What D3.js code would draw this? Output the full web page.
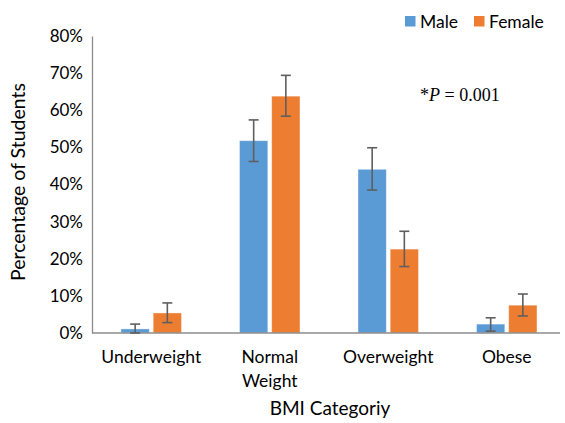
<!DOCTYPE html>
<html><head><meta charset="utf-8">
<script src="https://cdn.jsdelivr.net/npm/d3@7"></script>
<style>body{margin:0;background:#fff;}svg{display:block;}</style>
</head><body>
<svg id="chart" width="565" height="423"></svg>
<script>
const categories = ["Underweight", "Normal Weight", "Overweight", "Obese"];
const categoryLines = [["Underweight"], ["Normal", "Weight"], ["Overweight"], ["Obese"]];
const seriesNames = ["Male", "Female"];
const maleValues = [1.1, 51.8, 44.1, 2.4];
const maleLow = [0.0, 46.2, 38.5, 0.5];
const maleHigh = [2.4, 57.4, 49.9, 4.1];
const femaleValues = [5.4, 63.8, 22.6, 7.5];
const femaleLow = [2.8, 58.4, 17.9, 4.6];
const femaleHigh = [8.1, 69.4, 27.4, 10.5];
const yTicks = [0, 10, 20, 30, 40, 50, 60, 70, 80];
const colors = ["#5B9BD5", "#ED7D31"];

(function () {
const svg = d3.select("#chart");
const font = "Lato, 'Open Sans', sans-serif";
const mLeft = 92, mRight = 566, mTop = 36, mBottom = 333;

const x0 = d3.scaleBand().domain(categories).range([mLeft, mRight]).paddingInner(0).paddingOuter(0);
const x1 = d3.scaleBand().domain(seriesNames).range([29, 29 + 60.5]).paddingInner(0.12);
const y = d3.scaleLinear().domain([0, 80]).range([mBottom, mTop]);

const yAxis = d3.axisLeft(y).tickValues(yTicks).tickFormat(d => d + "%").tickSize(0).tickPadding(9);
const gy = svg.append("g").attr("transform", `translate(${mLeft},0)`).call(yAxis);
gy.select(".domain").attr("stroke", "#8c8c8c").attr("stroke-width", 1.3);
gy.selectAll("text").attr("font-family", font).attr("font-size", 17).attr("fill", "#000");

const series = [
  {name: "Male", values: maleValues, low: maleLow, high: maleHigh},
  {name: "Female", values: femaleValues, low: femaleLow, high: femaleHigh}
];

series.forEach((s, si) => {
  const g = svg.append("g");
  g.selectAll("rect").data(categories).join("rect")
    .attr("x", c => x0(c) + x1(s.name))
    .attr("width", x1.bandwidth())
    .attr("y", (c, i) => y(s.values[i]))
    .attr("height", (c, i) => y(0) - y(s.values[i]))
    .attr("fill", colors[si])
    .attr("stroke", "#fff").attr("stroke-opacity", 0.5).attr("stroke-width", 0.8);
});

svg.append("line").attr("x1", mLeft).attr("x2", 560).attr("y1", y(0)).attr("y2", y(0))
  .attr("stroke", "#8c8c8c").attr("stroke-width", 1.3);

series.forEach((s, si) => {
  const g = svg.append("g").attr("stroke", "#5f5f5f").attr("stroke-width", 1.6);
  categories.forEach((c, i) => {
    const cx = x0(c) + x1(s.name) + x1.bandwidth() / 2;
    g.append("line").attr("x1", cx).attr("x2", cx).attr("y1", y(s.low[i])).attr("y2", y(s.high[i]));
    [s.low[i], s.high[i]].forEach(v => {
      g.append("line").attr("x1", cx - 5).attr("x2", cx + 5).attr("y1", y(v)).attr("y2", y(v));
    });
  });
});

categories.forEach((c, i) => {
  const cxl = x0(c) + x0.bandwidth() / 2;
  const t = svg.append("text").attr("x", cxl).attr("y", 363)
    .attr("text-anchor", "middle").attr("font-family", font).attr("font-size", 17.5).attr("fill", "#000");
  categoryLines[i].forEach((ln, j) => {
    t.append("tspan").attr("x", cxl).attr("dy", j === 0 ? 0 : 24).text(ln);
  });
});

svg.append("text").attr("x", 330).attr("y", 415).attr("text-anchor", "middle")
  .attr("font-family", font).attr("font-size", 19).attr("fill", "#000").text("BMI Categoriy");
svg.append("text").attr("transform", "translate(25,182) rotate(-90)").attr("text-anchor", "middle")
  .attr("font-family", font).attr("font-size", 19.5).attr("fill", "#000").text("Percentage of Students");

const legendX = [405, 474];
seriesNames.forEach((n, i) => {
  svg.append("rect").attr("x", legendX[i]).attr("y", 16).attr("width", 10.5).attr("height", 10.5).attr("fill", colors[i]);
  svg.append("text").attr("x", legendX[i] + 15).attr("y", 27.5).attr("font-family", font)
    .attr("font-size", 17.5).attr("fill", "#000").text(n);
});

const p = svg.append("text").attr("x", 420).attr("y", 101).attr("font-family", "'Liberation Serif', 'DejaVu Serif', serif")
  .attr("font-size", 18).attr("fill", "#000");
p.append("tspan").text("*");
p.append("tspan").attr("font-style", "italic").text("P");
p.append("tspan").text(" = 0.001");
})();
</script>
</body></html>
